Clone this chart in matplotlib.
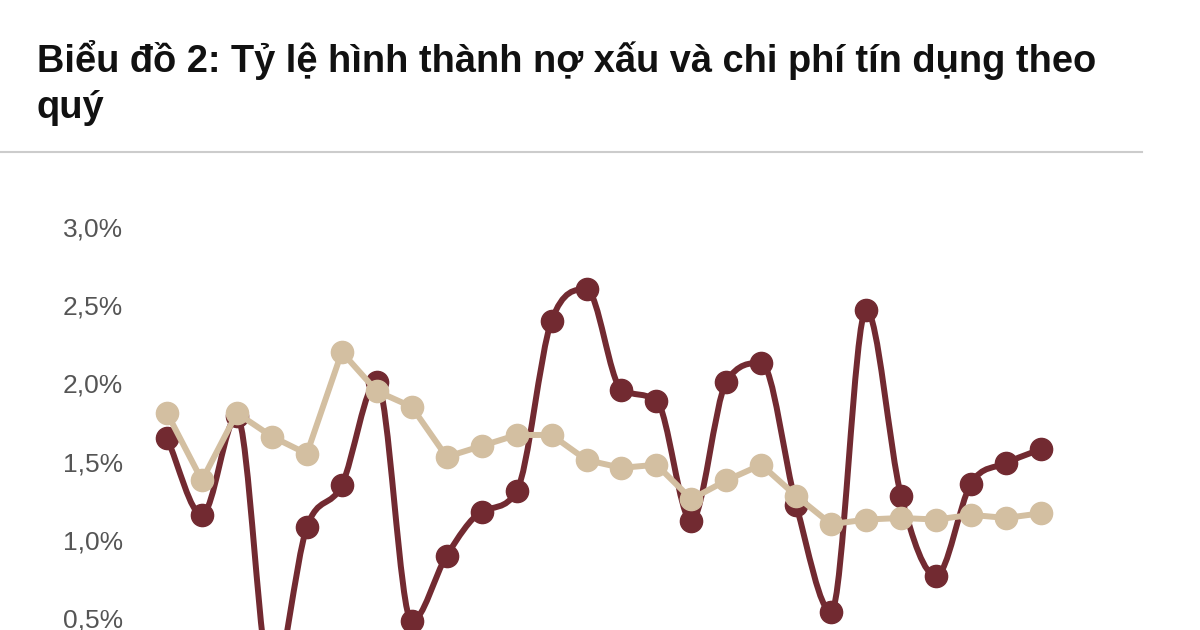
import numpy as np
import matplotlib
matplotlib.use("Agg")
import matplotlib.pyplot as plt
from matplotlib.path import Path
from matplotlib.patches import PathPatch

# du lieu doc tu bieu do (%)
no_xau = [1.65, 1.16, 1.79, 0.08, 1.08, 1.35, 2.01, 0.48, 0.90, 1.18, 1.31, 2.40, 2.60,
          1.96, 1.89, 1.12, 2.01, 2.13, 1.22, 0.54, 2.47, 1.28, 0.77, 1.36, 1.49, 1.58]
chi_phi = [1.81, 1.38, 1.81, 1.66, 1.55, 2.20, 1.95, 1.85, 1.53, 1.60, 1.67, 1.67, 1.51,
           1.46, 1.48, 1.26, 1.38, 1.48, 1.28, 1.10, 1.13, 1.14, 1.13, 1.16, 1.14, 1.17]
yticks = [0.5, 1.0, 1.5, 2.0, 2.5, 3.0]
ytick_labels = ["0,5%", "1,0%", "1,5%", "2,0%", "2,5%", "3,0%"]
title_1 = "Biểu đồ 2: Tỷ lệ hình thành nợ xấu và chi phí tín dụng theo"
title_2 = "quý"

RED = "#722a31"
BEIGE = "#d3bfa1"
FONT = ["Liberation Sans", "DejaVu Sans"]

W, H = 1200, 630
fig = plt.figure(figsize=(12, 6.3), dpi=100)

fig.text(37 / W, 1 - 71.5 / H, title_1, ha="left", va="baseline", fontsize=27.4,
         fontweight="bold", family=FONT, color="#111111")
fig.text(37 / W, 1 - 117.5 / H, title_2, ha="left", va="baseline", fontsize=27.4,
         fontweight="bold", family=FONT, color="#111111")
fig.add_artist(plt.Line2D([0, 1142 / W], [1 - 152 / H, 1 - 152 / H],
                          color="#cccccc", lw=1.5))

# axes keo xuong duoi mep hinh (phan duoi bi cat nhu anh goc)
left, right = 132, 1142
top, bottom = 200, 696.5
ax = fig.add_axes([left / W, 1 - bottom / H, (right - left) / W, (bottom - top) / H])
x = np.arange(len(no_xau))
ax.set_xlim(-1.001, 27.889)
ax.set_ylim(0, 3.0 + 26.7 / 156.6)
for s in ax.spines.values():
    s.set_visible(False)
ax.set_xticks([])
ax.set_yticks(yticks)
ax.set_yticklabels(ytick_labels)
ax.tick_params(axis="y", length=0, pad=6.5, labelsize=19, labelcolor="#555555")
for lab in ax.get_yticklabels():
    lab.set_family(FONT)


def monotone_path(xs, ys):
    # noi suy cubic don dieu kieu Chart.js, ve bang Bezier
    xs = np.asarray(xs, float)
    ys = np.asarray(ys, float)
    n = len(xs)
    d = np.diff(ys) / np.diff(xs)
    m = np.zeros(n)
    m[0] = d[0]
    m[-1] = d[-1]
    for i in range(1, n - 1):
        if np.sign(d[i - 1]) != np.sign(d[i]):
            m[i] = 0
        else:
            m[i] = (d[i - 1] + d[i]) / 2
    for i in range(n - 1):
        if abs(d[i]) < 1e-12:
            m[i] = m[i + 1] = 0
            continue
        a = m[i] / d[i]
        b = m[i + 1] / d[i]
        sq = a * a + b * b
        if sq <= 9:
            continue
        tau = 3 / np.sqrt(sq)
        m[i] = tau * a * d[i]
        m[i + 1] = tau * b * d[i]
    verts = [(xs[0], ys[0])]
    codes = [Path.MOVETO]
    for i in range(n - 1):
        dx = (xs[i + 1] - xs[i]) / 3
        verts += [(xs[i] + dx, ys[i] + m[i] * dx),
                  (xs[i + 1] - dx, ys[i + 1] - m[i + 1] * dx),
                  (xs[i + 1], ys[i + 1])]
        codes += [Path.CURVE4] * 3
    return Path(verts, codes)


ax.add_patch(PathPatch(monotone_path(x, no_xau), fill=False, edgecolor=RED,
                       lw=4.3, capstyle="round", joinstyle="round", zorder=2))
ax.plot(x, no_xau, "o", color=RED, ms=16, zorder=3, label="Tỷ lệ hình thành nợ xấu")
ax.plot(x, chi_phi, "-o", color=BEIGE, lw=4.3, ms=16, zorder=4, label="Chi phí tín dụng")

fig.savefig("out.png", dpi=100)
